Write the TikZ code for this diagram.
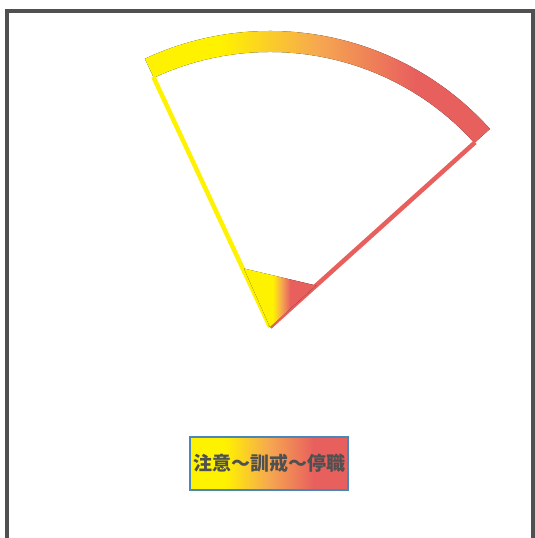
\documentclass[tikz,border=0pt]{standalone}
\usepackage{fontspec}
\newfontfamily\cjk{Noto Sans CJK JP}
\definecolor{myyellow}{HTML}{FFF200}
\definecolor{myorange}{HTML}{F6A850}
\definecolor{myred}{HTML}{E8605E}
\definecolor{framegray}{HTML}{505050}
\definecolor{boxblue}{HTML}{4A86B8}
\usepackage{tikz}
\usetikzlibrary{calc, positioning}
\pgfdeclarehorizontalshading{bandshade}{100bp}{color(0bp)=(myyellow); color(36bp)=(myyellow);
  color(50bp)=(myorange); color(64bp)=(myred); color(100bp)=(myred)}
\pgfdeclarehorizontalshading{tipshade}{100bp}{color(0bp)=(myyellow); color(45bp)=(myyellow);
  color(51bp)=(myorange); color(57bp)=(myred); color(100bp)=(myred)}
\tikzset{
	labeltext/.style={font=\cjk\bfseries\fontsize{19}{19}\selectfont, text=framegray}
}
\begin{document}
\begin{tikzpicture}[x=1pt, y=1pt]
      \useasboundingbox (0,0) rectangle (535,538);

      % frame (open at the bottom)
      \draw[framegray, line width=3.5pt] (7,0) -- (7,527) -- (533,527) -- (533,0);

      % apex of the fan
      \coordinate (apex) at (270,211);

      % outer band, yellow to red
      \fill[shading=bandshade] ($(apex)+(42:296)$) arc[start angle=42, end angle=115, radius=296]
        -- ($(apex)+(115:275)$) arc[start angle=115, end angle=42, radius=275] -- cycle;

      % side edges
      \draw[myyellow, line width=4.5pt] (apex) -- ($(apex)+(115:276)$);
      \draw[myred, line width=4.5pt] (apex) -- ($(apex)+(42:276)$);

      % small filled wedge at the apex
      \fill[shading=tipshade] (apex) -- ($(apex)+(42:62)$) -- ($(apex)+(114:64)$) -- cycle;

      % label
      \node[labeltext, shading=bandshade, draw=boxblue, line width=1.5pt,
            minimum width=158, minimum height=53, inner sep=0pt] (label) at (269,74.5) {注意～訓戒～停職};
    \end{tikzpicture}
\end{document}
